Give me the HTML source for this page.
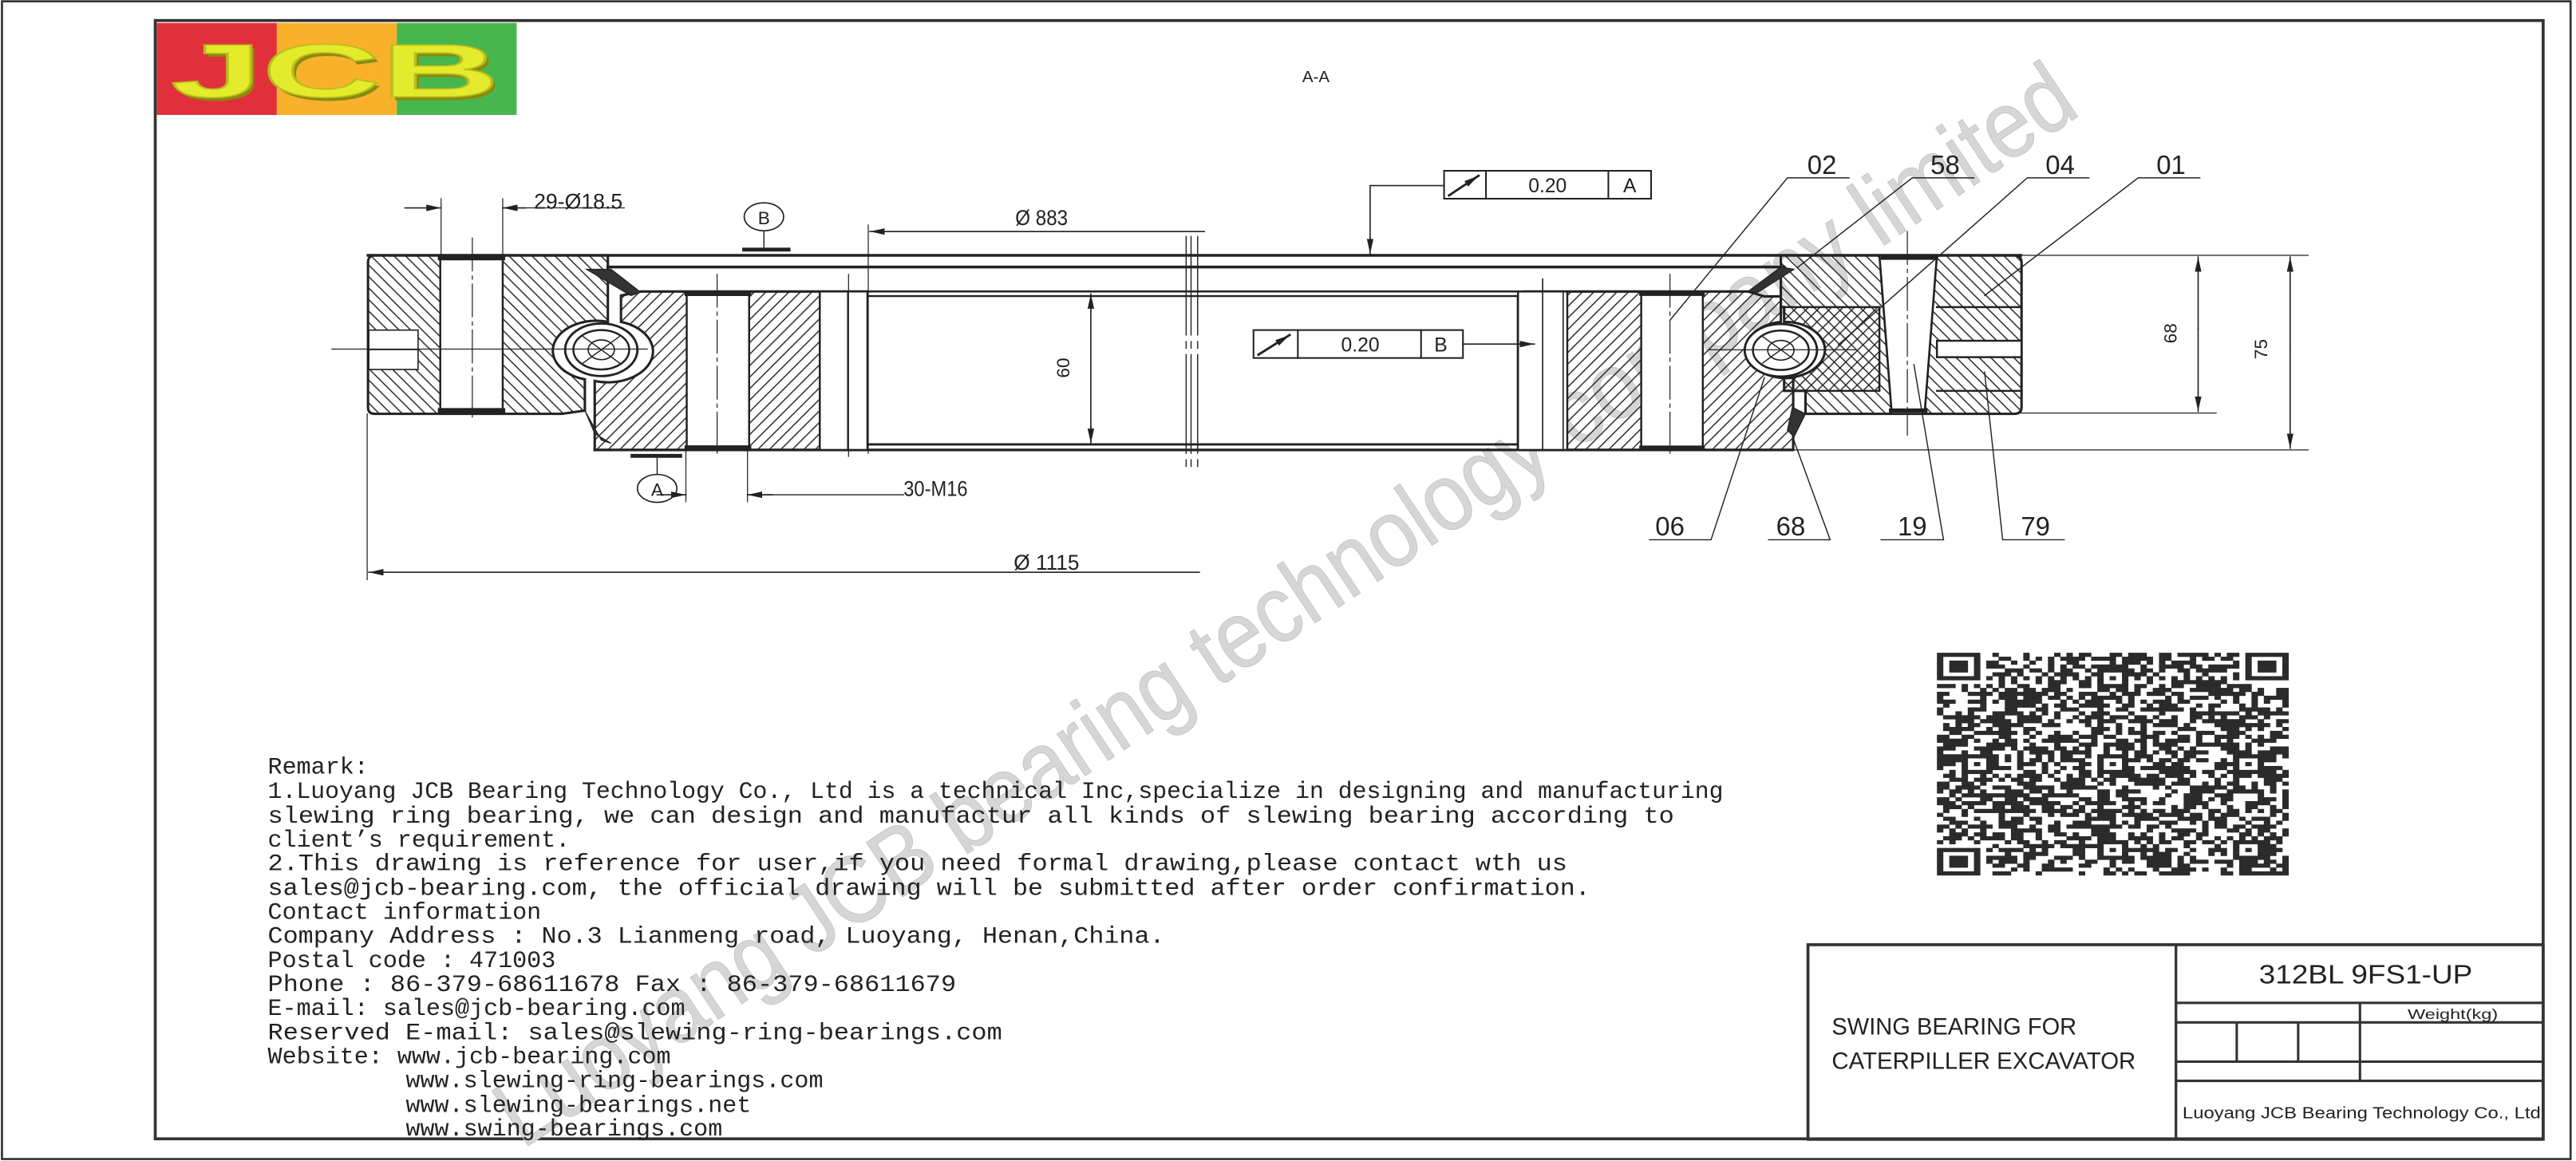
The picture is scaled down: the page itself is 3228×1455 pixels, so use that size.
<!DOCTYPE html>
<html><head><meta charset="utf-8"><style>
html,body{margin:0;padding:0;background:#fff;}
svg{display:block;}
.m{font-family:"Liberation Mono",monospace;font-size:14.6px;fill:#222;}
.n{font-family:"Liberation Sans Narrow","Liberation Sans",sans-serif;fill:#222;}
</style></head><body>
<svg width="3228" height="1455" viewBox="0 0 1568 707" preserveAspectRatio="none" xmlns="http://www.w3.org/2000/svg">
<defs>
<pattern id="hA" patternUnits="userSpaceOnUse" width="7" height="7"><path d="M-1,-1 L8,8 M-8,-1 L1,8 M6,-1 L15,8" stroke="#222" stroke-width="0.7"/></pattern>
<pattern id="hB" patternUnits="userSpaceOnUse" width="7" height="7"><path d="M-1,8 L8,-1 M-8,8 L1,-1 M6,8 L15,-1" stroke="#222" stroke-width="0.7"/></pattern>
<marker id="ar" markerUnits="userSpaceOnUse" markerWidth="10" markerHeight="6" refX="9" refY="3" orient="auto"><path d="M0,1 L9,3 L0,5z" fill="#222"/></marker>
</defs>
<rect x="0" y="0" width="1568" height="707" fill="#fff"/>
<!-- frames -->
<rect x="1.2" y="0.8" width="1563.5" height="705" fill="none" stroke="#333" stroke-width="1.3"/>
<rect x="94.5" y="12.5" width="1453.5" height="681" fill="none" stroke="#333" stroke-width="1.8"/>
<!-- logo -->
<rect x="95.5" y="14" width="73" height="56" fill="#e2303a"/>
<rect x="168.5" y="14" width="73" height="56" fill="#f9b12b"/>
<rect x="241.5" y="14" width="73" height="56" fill="#47b64f"/>
<text x="206" y="61" text-anchor="middle" textLength="200" lengthAdjust="spacingAndGlyphs" font-family="Liberation Sans" font-weight="bold" font-size="46" fill="#8a8a10">JCB</text>
<text x="204" y="59" text-anchor="middle" textLength="200" lengthAdjust="spacingAndGlyphs" font-family="Liberation Sans" font-weight="bold" font-size="46" fill="#e4ea2c" stroke="#b9bd1a" stroke-width="0.8">JCB</text>
<text x="801" y="50" text-anchor="middle" class="n" font-size="10">A-A</text>

<!-- watermark -->
<text x="318" y="700" transform="rotate(-33.6 318 700)" textLength="1140" lengthAdjust="spacingAndGlyphs" font-family="Liberation Sans" font-size="58" fill="#d6d6d6" stroke="#c6c6c6" stroke-width="0.5">Luoyang JCB bearing technology company limited</text>

<g stroke="#222" fill="none" stroke-linecap="square">
<line x1="224" y1="155.5" x2="1230" y2="155.5" stroke-width="1.7"/>
<line x1="370" y1="162.6" x2="1086" y2="162.6" stroke-width="1.7"/>
<line x1="390" y1="177.5" x2="924" y2="177.5" stroke-width="1.2"/>
<line x1="528" y1="180.3" x2="924" y2="180.3" stroke-width="1.2"/>
<line x1="528" y1="270.6" x2="924" y2="270.6" stroke-width="1.4"/>
<line x1="362" y1="274" x2="1091" y2="274" stroke-width="1.6"/>

<path d="M228,155.5 L370,155.5 L370,196 A19,13 0 0 0 356,231 L356,250 L342,252 L228,252 Q224,252 224,248 L224,160 Q224,155.5 228,155.5 Z" fill="url(#hA)" stroke-width="1.5"/>
<rect x="268" y="155.5" width="38" height="96.5" fill="#fff" stroke-width="1.2"/>
<line x1="268" y1="157" x2="306" y2="157" stroke-width="3"/>
<line x1="268" y1="250" x2="306" y2="250" stroke-width="3"/>
<rect x="224.5" y="201" width="30" height="24" fill="#fff" stroke-width="0.8"/>
<line x1="224.5" y1="213" x2="254" y2="213" stroke-width="0.5"/>
<path d="M390,177.5 L528,177.5 L528,274 L362,274 L362,232 A19,13 0 0 0 378,196 L378,180 Z" fill="url(#hB)" stroke-width="1.5"/>
<rect x="418" y="177.5" width="38" height="96.5" fill="#fff" stroke-width="1.2"/>
<line x1="418" y1="179" x2="456" y2="179" stroke-width="2.6"/>
<line x1="418" y1="272.5" x2="456" y2="272.5" stroke-width="2.6"/>
<rect x="499" y="177.5" width="29" height="96.5" fill="#fff" stroke-width="1.2"/>
<line x1="516" y1="177.5" x2="516" y2="274" stroke-width="0.8"/>
<path d="M357,164 L372,164 L390,178 L384,180 Z" fill="#333" stroke-width="0.6"/>
<path d="M356,250 L366,268 L372,270 L362,264 Z" fill="#333" stroke-width="0.6"/>
<ellipse cx="366" cy="213" rx="22" ry="16" fill="#fff" stroke-width="1.4"/>
<ellipse cx="366" cy="213" rx="17" ry="12" stroke-width="1.2"/>
<ellipse cx="366" cy="213" rx="8" ry="6" stroke-width="0.8"/>
<path d="M355,205 L377,221 M355,221 L377,205" stroke-width="0.7"/>
<line x1="202" y1="212.6" x2="394" y2="212.6" stroke-width="0.6"/>
<line x1="287.5" y1="145" x2="287.5" y2="257" stroke-width="0.6" stroke-dasharray="20 3 2 3"/>
<line x1="436.5" y1="167" x2="436.5" y2="278" stroke-width="0.6" stroke-dasharray="20 3 2 3"/>
<line x1="516.5" y1="167" x2="516.5" y2="278" stroke-width="0.6"/>

<line x1="268.5" y1="121" x2="268.5" y2="155" stroke-width="0.6"/>
<line x1="306" y1="121" x2="306" y2="155" stroke-width="0.6"/>
<line x1="246.5" y1="126.6" x2="268.5" y2="126.6" stroke-width="0.8" marker-end="url(#ar)"/>
<line x1="320" y1="126.6" x2="306" y2="126.6" stroke-width="0.8" marker-end="url(#ar)"/>
<line x1="306" y1="126.6" x2="380" y2="126.6" stroke-width="0.6"/>
<ellipse cx="465" cy="132" rx="12" ry="8.5" fill="#fff" stroke-width="0.8"/>
<line x1="465" y1="140.5" x2="465" y2="152" stroke-width="0.7"/>
<line x1="453" y1="152" x2="480" y2="152" stroke-width="2.4"/>
<line x1="528.5" y1="137" x2="528.5" y2="276" stroke-width="0.6"/>
<line x1="733" y1="141" x2="529.5" y2="141" stroke-width="0.8" marker-end="url(#ar)"/>
<path d="M722,144 L722,287 M725,144 L725,287 M729,144 L729,287" stroke-width="0.7" stroke-dasharray="60 4 4 4"/>
<line x1="664" y1="190" x2="664" y2="179" stroke-width="0.8" marker-end="url(#ar)"/>
<line x1="664" y1="190" x2="664" y2="260" stroke-width="0.8"/>
<line x1="664" y1="260" x2="664" y2="270" stroke-width="0.8" marker-end="url(#ar)"/>
<line x1="385" y1="277.6" x2="414" y2="277.6" stroke-width="2.4"/>
<line x1="400" y1="278" x2="400" y2="289" stroke-width="0.7"/>
<ellipse cx="400" cy="297.4" rx="12" ry="8.5" fill="#fff" stroke-width="0.8"/>
<line x1="417.5" y1="275" x2="417.5" y2="305.5" stroke-width="0.6"/>
<line x1="455" y1="275" x2="455" y2="305.5" stroke-width="0.6"/>
<line x1="400" y1="301.3" x2="417.5" y2="301.3" stroke-width="0.8" marker-end="url(#ar)"/>
<line x1="470" y1="301.3" x2="455" y2="301.3" stroke-width="0.8" marker-end="url(#ar)"/>
<line x1="455" y1="301.3" x2="550" y2="301.3" stroke-width="0.7"/>
<line x1="223.5" y1="252" x2="223.5" y2="353" stroke-width="0.6"/>
<line x1="730" y1="348.5" x2="224.5" y2="348.5" stroke-width="0.8" marker-end="url(#ar)"/>

<path d="M928,177.5 L1064,177.5 L1074,180.5 L1084,180.5 L1084,196 A19,13 0 0 0 1091.5,230 L1091.5,274 L924,274 L924,182 Q924,177.5 928,177.5 Z" fill="url(#hB)" stroke-width="1.5"/>
<rect x="924" y="177.5" width="30" height="96.5" fill="#fff" stroke-width="1.2"/>
<line x1="939" y1="170" x2="939" y2="274" stroke-width="0.8"/>
<line x1="951.5" y1="177.5" x2="951.5" y2="274" stroke-width="0.8"/>
<rect x="999" y="177.5" width="37.5" height="96.5" fill="#fff" stroke-width="1.2"/>
<line x1="999" y1="179" x2="1036.5" y2="179" stroke-width="2.4"/>
<line x1="999" y1="272.5" x2="1036.5" y2="272.5" stroke-width="2.4"/>
<line x1="1016.5" y1="167" x2="1016.5" y2="278" stroke-width="0.6" stroke-dasharray="20 3 2 3"/>
<path d="M1084,155.5 L1226,155.5 Q1230.5,155.5 1230.5,160 L1230.5,248 Q1230.5,252 1226,252 L1099,252 L1099,238 L1086,238 L1086,230 A19,13 0 0 0 1086,196 L1086,187 L1084,187 Z" fill="url(#hA)" stroke-width="1.5"/>
<path d="M1086,187 L1144,187 L1144,238 L1086,238 L1086,230 A19,13 0 0 0 1086,196 Z" fill="url(#hB)" stroke-width="1.2"/>
<rect x="1179" y="207.5" width="51.5" height="10" fill="#fff" stroke-width="1.2"/>
<line x1="1179" y1="187" x2="1230" y2="187" stroke-width="1.2"/>
<line x1="1179" y1="238" x2="1230" y2="238" stroke-width="1.2"/>
<path d="M1144,155.5 L1179,155.5 L1171.5,252 L1151.5,252 Z" fill="#fff" stroke-width="1.3"/>
<line x1="1146" y1="157" x2="1178" y2="157" stroke-width="2.5"/>
<line x1="1151" y1="250" x2="1172" y2="250" stroke-width="2.5"/>
<line x1="1161" y1="141" x2="1161" y2="265" stroke-width="0.6" stroke-dasharray="20 3 2 3"/>
<path d="M1084,162.6 L1092,164 L1070,178 L1064,177.5 Z" fill="#333" stroke-width="0.6"/>
<path d="M1091,248 L1099,252 L1092,266 L1088,262 Z" fill="#333" stroke-width="0.6"/>
<ellipse cx="1084" cy="213.3" rx="22" ry="16" fill="#fff" stroke-width="1.4"/>
<ellipse cx="1084" cy="213.3" rx="17" ry="12" stroke-width="1.2"/>
<ellipse cx="1084" cy="213.3" rx="8" ry="6" stroke-width="0.8"/>
<path d="M1073,205 L1095,221 M1073,221 L1095,205" stroke-width="0.7"/>
<line x1="1040" y1="213" x2="1130" y2="213" stroke-width="0.6"/>
<line x1="1230" y1="155.5" x2="1405" y2="155.5" stroke-width="0.6"/>
<line x1="1230" y1="251.5" x2="1349" y2="251.5" stroke-width="0.6"/>
<line x1="1091" y1="274" x2="1405" y2="274" stroke-width="0.6"/>
<line x1="1338" y1="200" x2="1338" y2="156.5" stroke-width="0.8" marker-end="url(#ar)"/>
<line x1="1338" y1="200" x2="1338" y2="250.5" stroke-width="0.8" marker-end="url(#ar)"/>
<line x1="1394" y1="210" x2="1394" y2="156.5" stroke-width="0.8" marker-end="url(#ar)"/>
<line x1="1394" y1="210" x2="1394" y2="273" stroke-width="0.8" marker-end="url(#ar)"/>
<rect x="879" y="104" width="126" height="17" fill="#fff" stroke-width="1"/>
<line x1="904.5" y1="104" x2="904.5" y2="121" stroke-width="1"/>
<line x1="979" y1="104" x2="979" y2="121" stroke-width="1"/>
<line x1="882" y1="119" x2="900" y2="107" stroke-width="1.4" marker-end="url(#ar)"/>
<polyline points="879,113 834,113 834,150" stroke-width="0.8"/>
<line x1="834" y1="145" x2="834" y2="154.5" stroke-width="0.8" marker-end="url(#ar)"/>
<rect x="763" y="201" width="127.5" height="17" fill="#fff" stroke-width="1"/>
<line x1="790" y1="201" x2="790" y2="218" stroke-width="1"/>
<line x1="865" y1="201" x2="865" y2="218" stroke-width="1"/>
<line x1="766" y1="216" x2="785" y2="204" stroke-width="1.4" marker-end="url(#ar)"/>
<line x1="890.5" y1="209.5" x2="934" y2="209.5" stroke-width="0.8" marker-end="url(#ar)"/>
<path d="M1125.5,108.3 L1088,108.3 L1016.5,195" stroke-width="0.7"/>
<path d="M1201.5,108.3 L1164,108.3 L1094,163" stroke-width="0.7"/>
<path d="M1271.5,108.3 L1234,108.3 L1119,210" stroke-width="0.7"/>
<path d="M1339,108.3 L1301.5,108.3 L1208,180" stroke-width="0.7"/>
<path d="M1004,328.7 L1041.5,328.7 L1074,230" stroke-width="0.7"/>
<path d="M1076.5,328.7 L1114,328.7 L1091.5,267" stroke-width="0.7"/>
<path d="M1145,328.7 L1183,328.7 L1165,222" stroke-width="0.7"/>
<path d="M1256.5,328.7 L1219,328.7 L1208,226.5" stroke-width="0.7"/>
</g>

<g class="n" font-size="13">
<text x="325" y="127" textLength="54" lengthAdjust="spacingAndGlyphs">29-Ø18.5</text>
<text x="465" y="136.5" text-anchor="middle" font-size="11">B</text>
<text x="400" y="302" text-anchor="middle" font-size="11">A</text>
<text x="618" y="137" textLength="32" lengthAdjust="spacingAndGlyphs">Ø 883</text>
<text x="550" y="302" textLength="39" lengthAdjust="spacingAndGlyphs">30-M16</text>
<text x="617" y="347" textLength="40" lengthAdjust="spacingAndGlyphs">Ø 1115</text>
<text x="651" y="224" transform="rotate(-90 651 224)" text-anchor="middle" font-size="11">60</text>
<text x="1325" y="203" transform="rotate(-90 1325 203)" text-anchor="middle" font-size="11">68</text>
<text x="1380" y="212.6" transform="rotate(-90 1380 212.6)" text-anchor="middle" font-size="11">75</text>
<text x="942" y="117" text-anchor="middle" font-size="12">0.20</text>
<text x="992" y="117" text-anchor="middle" font-size="12">A</text>
<text x="828" y="214" text-anchor="middle" font-size="12">0.20</text>
<text x="877" y="214" text-anchor="middle" font-size="12">B</text>
<g font-size="16">
<text x="1109" y="106" text-anchor="middle">02</text>
<text x="1184" y="106" text-anchor="middle">58</text>
<text x="1254" y="106" text-anchor="middle">04</text>
<text x="1321.5" y="106" text-anchor="middle">01</text>
<text x="1016.5" y="326" text-anchor="middle">06</text>
<text x="1090" y="326" text-anchor="middle">68</text>
<text x="1164" y="326" text-anchor="middle">19</text>
<text x="1239" y="326" text-anchor="middle">79</text>
</g>
</g>

<g class="m">
<text x="163" y="471">Remark:</text>
<text x="163" y="486" textLength="886" lengthAdjust="spacingAndGlyphs">1.Luoyang JCB Bearing Technology Co., Ltd is a technical Inc,specialize in designing and manufacturing</text>
<text x="163" y="501" textLength="856" lengthAdjust="spacingAndGlyphs">slewing ring bearing, we can design and manufactur all kinds of slewing bearing according to</text>
<text x="163" y="515.5">client’s requirement.</text>
<text x="163" y="530" textLength="791" lengthAdjust="spacingAndGlyphs">2.This drawing is reference for user,if you need formal drawing,please contact wth us</text>
<text x="163" y="545" textLength="805" lengthAdjust="spacingAndGlyphs">sales@jcb-bearing.com, the official drawing will be submitted after order confirmation.</text>
<text x="163" y="559.5">Contact information</text>
<text x="163" y="574" textLength="546" lengthAdjust="spacingAndGlyphs">Company Address : No.3 Lianmeng road, Luoyang, Henan,China.</text>
<text x="163" y="589">Postal code : 471003</text>
<text x="163" y="603.5" textLength="419" lengthAdjust="spacingAndGlyphs">Phone : 86-379-68611678 Fax : 86-379-68611679</text>
<text x="163" y="618">E-mail: sales@jcb-bearing.com</text>
<text x="163" y="633" textLength="447" lengthAdjust="spacingAndGlyphs">Reserved E-mail: sales@slewing-ring-bearings.com</text>
<text x="163" y="647.5">Website: www.jcb-bearing.com</text>
<text x="247" y="662">www.slewing-ring-bearings.com</text>
<text x="247" y="677">www.slewing-bearings.net</text>
<text x="247" y="691.5">www.swing-bearings.com</text>
</g>

<g stroke="#333" fill="none">
<rect x="1100.5" y="575.3" width="447.5" height="118.5" stroke-width="1.8"/>
<line x1="1324.5" y1="575.3" x2="1324.5" y2="693.8" stroke-width="1.6"/>
<line x1="1324.5" y1="610.7" x2="1548" y2="610.7" stroke-width="1.5"/>
<line x1="1324.5" y1="622.6" x2="1548" y2="622.6" stroke-width="1.5"/>
<line x1="1324.5" y1="646.5" x2="1548" y2="646.5" stroke-width="1.5"/>
<line x1="1324.5" y1="658.2" x2="1548" y2="658.2" stroke-width="1.5"/>
<line x1="1436.5" y1="610.7" x2="1436.5" y2="658.2" stroke-width="1.5"/>
<line x1="1361.5" y1="622.6" x2="1361.5" y2="646.5" stroke-width="1.5"/>
<line x1="1398.9" y1="622.6" x2="1398.9" y2="646.5" stroke-width="1.5"/>
</g>
<g class="n">
<text x="1440" y="599" text-anchor="middle" font-size="16" textLength="130" lengthAdjust="spacingAndGlyphs">312BL 9FS1-UP</text>
<text x="1493" y="620.5" text-anchor="middle" font-size="8.5" textLength="55" lengthAdjust="spacingAndGlyphs">Weight(kg)</text>
<text x="1115" y="630" font-size="14.5" textLength="149" lengthAdjust="spacingAndGlyphs">SWING BEARING FOR</text>
<text x="1115" y="651" font-size="14.5" textLength="185" lengthAdjust="spacingAndGlyphs">CATERPILLER EXCAVATOR</text>
<text x="1328.5" y="681" font-size="10" textLength="218" lengthAdjust="spacingAndGlyphs">Luoyang JCB Bearing Technology Co., Ltd</text>
</g>

<g id="qr" fill="#2b2b2b"></g>
</svg>
<script>
(function(){
var N=57,x0=1179,y0=397.5,w=214/N,h=135.5/N,g=document.getElementById('qr'),s='';
var seed=12345;function r(){seed=(seed*1103515245+12345)&0x7fffffff;return seed/0x7fffffff;}
function fin(cx,cy,i,j){var a=i-cx,b=j-cy;if(a<-1||b<-1||a>7||b>7)return -1;if(a<0||b<0||a>6||b>6)return 0;var m=Math.max(Math.abs(a-3),Math.abs(b-3));return (m==2)?0:1;}
function al(cx,cy,i,j){var a=Math.abs(i-cx),b=Math.abs(j-cy);if(a>2||b>2)return -1;var m=Math.max(a,b);return m==1?0:1;}
for(var j=0;j<N;j++)for(var i=0;i<N;i++){
var v=fin(0,0,i,j);if(v<0)v=fin(N-7,0,i,j);if(v<0)v=fin(0,N-7,i,j);
if(v<0){var P=[6,28,50];for(var p=0;p<3&&v<0;p++)for(var q=0;q<3&&v<0;q++){if((p==0&&q==0)||(p==2&&q==0)||(p==0&&q==2))continue;v=al(P[p],P[q],i,j);}}
if(v<0){if(j==6)v=(i%2==0)?1:0;else if(i==6)v=(j%2==0)?1:0;else v=r()<0.55?1:0;}
if(v)s+='<rect x="'+(x0+i*w).toFixed(2)+'" y="'+(y0+j*h).toFixed(2)+'" width="'+(w+0.15).toFixed(2)+'" height="'+(h+0.15).toFixed(2)+'"/>';}
g.innerHTML=s;})();
</script>
</body></html>
